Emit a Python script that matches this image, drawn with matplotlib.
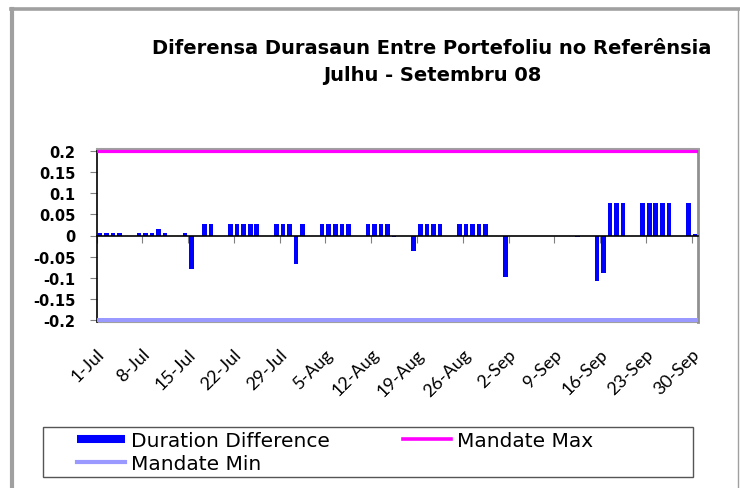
import numpy as np
import pandas as pd
import matplotlib
matplotlib.use('Agg')
import matplotlib.pyplot as plt
from matplotlib.lines import Line2D
from matplotlib.patches import Rectangle
from matplotlib.transforms import ScaledTranslation

#########  chart data  #########
title = 'Diferensa Durasaun Entre Portefoliu no Referênsia\nJulhu - Setembru 08'

dates = ['2008-07-01', '2008-07-02', '2008-07-03', '2008-07-04',
         '2008-07-07', '2008-07-08', '2008-07-09', '2008-07-10', '2008-07-11',
         '2008-07-14', '2008-07-15', '2008-07-17', '2008-07-18',
         '2008-07-21', '2008-07-22', '2008-07-23', '2008-07-24', '2008-07-25',
         '2008-07-28', '2008-07-29', '2008-07-30', '2008-07-31', '2008-08-01',
         '2008-08-04', '2008-08-05', '2008-08-06', '2008-08-07', '2008-08-08',
         '2008-08-11', '2008-08-12', '2008-08-13', '2008-08-14', '2008-08-15',
         '2008-08-18', '2008-08-19', '2008-08-20', '2008-08-21', '2008-08-22',
         '2008-08-25', '2008-08-26', '2008-08-27', '2008-08-28', '2008-08-29',
         '2008-09-01', '2008-09-12',
         '2008-09-15', '2008-09-16', '2008-09-17', '2008-09-18', '2008-09-19',
         '2008-09-22', '2008-09-23', '2008-09-24', '2008-09-25', '2008-09-26',
         '2008-09-29', '2008-09-30']
duration_diff = [0.005, 0.005, 0.005, 0.005,
                 0.005, 0.005, 0.005, 0.016, 0.005,
                 0.005, -0.078, 0.026, 0.026,
                 0.026, 0.026, 0.026, 0.026, 0.026,
                 0.026, 0.026, 0.026, -0.068, 0.026,
                 0.026, 0.026, 0.026, 0.026, 0.026,
                 0.026, 0.026, 0.026, 0.026, -0.004,
                 -0.036, 0.026, 0.026, 0.026, 0.026,
                 0.026, 0.026, 0.026, 0.026, 0.026,
                 -0.097, -0.004,
                 -0.108, -0.088, 0.076, 0.076, 0.076,
                 0.076, 0.076, 0.076, 0.076, 0.076,
                 0.076, 0.004]
mandate_max = 0.2
mandate_min = -0.2

period_start = '2008-07-01'
period_end = '2008-10-01'
tick_labels = ['1-Jul', '8-Jul', '15-Jul', '22-Jul', '29-Jul', '5-Aug', '12-Aug',
               '19-Aug', '26-Aug', '2-Sep', '9-Sep', '16-Sep', '23-Sep', '30-Sep']
y_ticks = [0.2, 0.15, 0.1, 0.05, 0, -0.05, -0.1, -0.15, -0.2]
y_labels = ['0.2', '0.15', '0.1', '0.05', '0', '-0.05', '-0.1', '-0.15', '-0.2']

#########  convert dates to day positions  #########
t0 = pd.Timestamp(period_start)
x = (pd.to_datetime(dates) - t0).days.values + 0.5        # bar in the middle of its day
ndays = (pd.Timestamp(period_end) - t0).days
tick_pos = (pd.to_datetime([l + '-2008' for l in tick_labels], format='%d-%b-%Y') - t0).days.values

W, H = 740, 489
fig = plt.figure(figsize=(W / 100, H / 100), dpi=100)
ax = fig.add_axes([96.5 / W, 1 - 323 / H, 601.8 / W, 173 / H])

ax.bar(x, duration_diff, width=0.7, color='#0000ff', zorder=3)
ax.axhline(mandate_max, color='#ff00ff', lw=2.3, zorder=4)
ax.axhline(mandate_min, color='#9999ff', lw=3.6, zorder=4)

ax.set_xlim(0, ndays)
ax.set_ylim(-0.204, 0.204)

# zero line with the date ticks hanging from it
ax.spines['bottom'].set_position(('data', 0))
ax.spines['bottom'].set_color('black')
ax.spines['bottom'].set_linewidth(1.2)
ax.spines['bottom'].set_zorder(5)
ax.set_xticks(tick_pos)
ax.tick_params(axis='x', direction='out', length=5, color='#808080', labelbottom=False)

ax.spines['left'].set_color('black')
ax.spines['left'].set_linewidth(1.2)
ax.spines['top'].set_color('#a0a0a0')
ax.spines['top'].set_linewidth(1.5)
ax.spines['right'].set_color('#909090')
ax.spines['right'].set_linewidth(2)

ax.set_yticks(y_ticks)
ax.set_yticklabels(y_labels, fontfamily='DejaVu Sans', fontweight='bold', fontsize=10.5)
ax.tick_params(axis='y', direction='out', length=5, color='#808080', pad=10)

# date labels below the plot area
sec = ax.secondary_xaxis('bottom')
sec.spines['bottom'].set_color('#a0a0a0')
sec.set_xticks(tick_pos)
sec.set_xticklabels(tick_labels, rotation=45, ha='right', va='center',
                    rotation_mode='anchor', fontfamily='Lato', fontsize=13)
sec.tick_params(axis='x', length=0, pad=21)
for lbl in sec.get_xticklabels():
    lbl.set_transform(lbl.get_transform() + ScaledTranslation(5 / 100, 0, fig.dpi_scale_trans))

fig.text(432 / W, 1 - 62 / H, title, ha='center', va='center', fontsize=14,
         fontweight='bold', fontfamily='DejaVu Sans', linespacing=1.5)

# legend
handles = [Line2D([], [], color='#0000ff', lw=5.8, solid_capstyle='butt'),
           Line2D([], [], color='#9999ff', lw=3),
           Line2D([], [], color='#ff00ff', lw=2.6)]
labels = ['Duration Difference', 'Mandate Min', 'Mandate Max']
fig.legend(handles, labels, ncol=2, loc='upper left', bbox_to_anchor=(77 / W, 1 - 432 / H),
           frameon=False, borderpad=0, borderaxespad=0, handlelength=2.4,
           handletextpad=0.3, labelspacing=0.22, columnspacing=3.6,
           prop={'family': 'DejaVu Sans', 'size': 14.5})
fig.add_artist(Rectangle((43 / W, 1 - 478 / H), 650 / W, 50 / H, transform=fig.transFigure,
                         fill=False, edgecolor='#555555', lw=1))

# outer chart frame (cut off at bottom and right in the reference)
fig.add_artist(Line2D([12 / W, 12 / W], [0, 1 - 10 / H], transform=fig.transFigure,
                      color='#a0a0a0', lw=3))
fig.add_artist(Line2D([10.5 / W, 1], [1 - 10 / H, 1 - 10 / H], transform=fig.transFigure,
                      color='#a0a0a0', lw=2.6))
fig.add_artist(Line2D([738 / W, 738 / W], [0, 1 - 10 / H], transform=fig.transFigure,
                      color='#a0a0a0', lw=1))

fig.savefig('out.png', dpi=100)
